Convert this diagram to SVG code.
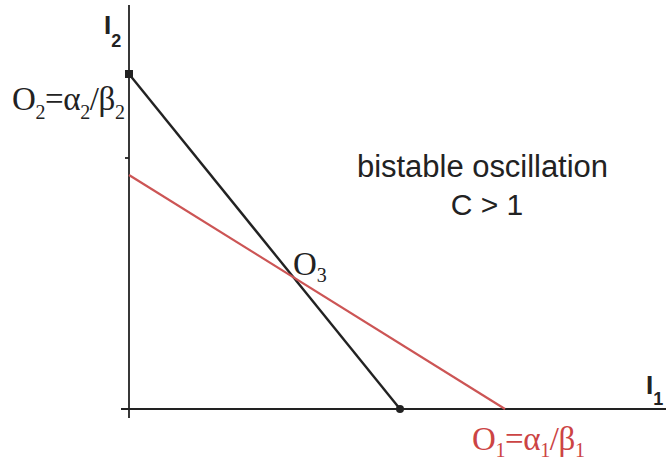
<svg xmlns="http://www.w3.org/2000/svg" width="666" height="460" viewBox="0 0 666 460">
<style>
.ax{stroke:#222;stroke-width:1.8;fill:none}
.blk{stroke:#222;stroke-width:2.4;fill:none}
.red{stroke:#cc5555;stroke-width:2.2;fill:none}
.serif{font-family:"Liberation Serif","Times New Roman",serif}
.sans{font-family:"Liberation Sans",Arial,sans-serif}
.sub{font-size:20px}
</style>
<rect width="666" height="460" fill="#fff"/>
<g id="axes">
<line class="ax" x1="129" y1="5" x2="129" y2="418"/>
<line class="ax" x1="121" y1="409" x2="666" y2="409"/>
<line class="ax" x1="125" y1="158" x2="129" y2="158"/>
</g>
<g id="connectors">
<line class="blk" x1="129" y1="74" x2="400" y2="409"/>
<line class="red" x1="129" y1="175" x2="505" y2="409"/>
</g>
<g id="O2-point"><rect x="125" y="70" width="8" height="8" fill="#222"/></g>
<g id="O1-black-point"><circle cx="400" cy="409" r="4" fill="#222"/></g>
<g id="label-I2"><text class="sans" x="104" y="34" font-size="26" font-weight="bold" fill="#222">I<tspan font-size="18" dy="13">2</tspan></text></g>
<g id="label-I1"><text class="sans" x="646" y="394" font-size="26" font-weight="bold" fill="#222">I<tspan font-size="18" dy="11">1</tspan></text></g>
<g id="label-O2"><text class="serif" x="12" y="110" font-size="33" fill="#222" textLength="113">O<tspan class="sub" dy="9">2</tspan><tspan dy="-9">=α</tspan><tspan class="sub" dy="9">2</tspan><tspan dy="-9">/β</tspan><tspan class="sub" dy="9">2</tspan></text></g>
<g id="label-O3"><text class="serif" x="293" y="275" font-size="33" fill="#222">O<tspan class="sub" dy="7">3</tspan></text></g>
<g id="label-O1"><text class="serif" x="472" y="450" font-size="33" fill="#cc4444" textLength="113">O<tspan class="sub" dy="7">1</tspan><tspan dy="-7">=α</tspan><tspan class="sub" dy="7">1</tspan><tspan dy="-7">/β</tspan><tspan class="sub" dy="7">1</tspan></text></g>
<g id="label-bistable">
<text class="sans" x="357" y="177" font-size="31" fill="#222" textLength="251">bistable oscillation</text>
<text class="sans" x="487" y="215" font-size="30" fill="#222" text-anchor="middle">C &gt; 1</text>
</g>
</svg>
